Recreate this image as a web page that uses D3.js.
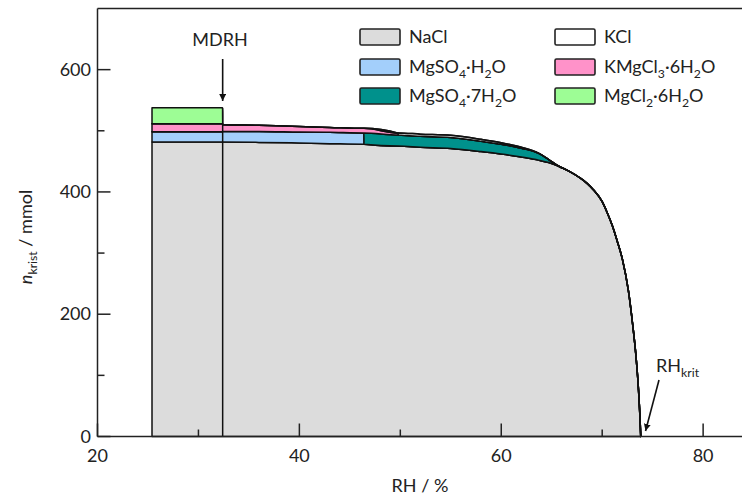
<!DOCTYPE html>
<html><head><meta charset="utf-8">
<script src="https://cdn.jsdelivr.net/npm/d3@7"></script>
<style>
body{margin:0;background:#fff}
text{font-family:Lato,"Open Sans",sans-serif;fill:#222}
</style>
</head><body>
<svg id="c" width="742" height="497"></svg>
<script>
// ---- data ----
const rh        = [25.4, 32.4, 32.4, 36, 40, 43, 46.4, 46.4, 49.8, 49.8, 52, 55, 58, 60, 62, 63.7, 64.7, 65.7, 66.7, 67.7, 68.5, 69.1, 70.0, 70.5, 71.0, 71.5, 72.0, 72.6, 73.0, 73.35, 73.6, 73.77, 73.82];
const nacl      = [481.5, 481.5, 481.5, 481, 480, 479, 478, 478, 475, 475, 473, 471, 466, 462, 457, 452, 448, 442, 434, 424, 414, 404, 384, 366, 345, 319, 290, 238, 186, 131, 76, 21, 0];
const mgso4H2O  = [17, 17, 17.5, 18, 18, 18.5, 18.5, 0, 0, 0, 0, 0, 0, 0, 0, 0, 0, 0, 0, 0, 0, 0, 0, 0, 0, 0, 0, 0, 0, 0, 0, 0, 0];
const mgso47H2O = [0, 0, 0, 0, 0, 0, 0, 18.5, 18, 18, 18, 18, 17, 16, 14.5, 11, 5, 0, 0, 0, 0, 0, 0, 0, 0, 0, 0, 0, 0, 0, 0, 0, 0];
const kmgcl3    = [13, 13, 11, 10, 9, 8, 7.5, 7.5, 3, 0, 0, 0, 0, 0, 0, 0, 0, 0, 0, 0, 0, 0, 0, 0, 0, 0, 0, 0, 0, 0, 0, 0, 0];
const kcl       = [0, 0, 0, 0, 0, 0, 0, 0, 0, 3.5, 3.5, 3.5, 3, 2.5, 1.5, 0.5, 0, 0, 0, 0, 0, 0, 0, 0, 0, 0, 0, 0, 0, 0, 0, 0, 0];
const mgcl2     = [26, 26, 0, 0, 0, 0, 0, 0, 0, 0, 0, 0, 0, 0, 0, 0, 0, 0, 0, 0, 0, 0, 0, 0, 0, 0, 0, 0, 0, 0, 0, 0, 0];

const keys   = ["NaCl", "MgSO_4·H_2O", "MgSO_4·7H_2O", "KMgCl_3·6H_2O", "KCl", "MgCl_2·6H_2O"];
const values = [nacl, mgso4H2O, mgso47H2O, kmgcl3, kcl, mgcl2];
const colors = ["#dcdcdc", "#a3cffb", "#00918c", "#ff92c9", "#ffffff", "#9dfd95"];
const legendOrder = ["NaCl", "KCl", "MgSO_4·H_2O", "KMgCl_3·6H_2O", "MgSO_4·7H_2O", "MgCl_2·6H_2O"];

const xTicks = [20, 40, 60, 80], xMinor = [30, 50, 70];
const yTicks = [0, 200, 400, 600], yMinor = [100, 300, 500];
const mdrh = 32.4, rhKrit = 73.8;

// ---- chart ----
const svg = d3.select("#c");
const x = d3.scaleLinear().domain([20, 84]).range([97.5, 743.5]);
const y = d3.scaleLinear().domain([0, 700]).range([436.5, 8.5]);

// phase transitions appear as repeated RH values: nudge the second one a hair so the curve can be smoothed
const table = rh.map((r, i) => {
  const o = {rh: (i > 0 && r === rh[i - 1]) ? r + 0.002 : r};
  keys.forEach((k, j) => o[k] = values[j][i]);
  return o;
});
const stacked = d3.stack().keys(keys)(table);

const area = d3.area()
  .curve(d3.curveMonotoneX)
  .x(d => x(d.data.rh))
  .y0(d => y(d[0]))
  .y1(d => y(d[1]));

svg.append("g").selectAll("path").data(stacked).join("path")
  .attr("d", area)
  .attr("fill", (d, i) => colors[i])
  .attr("stroke", "#111")
  .attr("stroke-width", 1.5)
  .attr("stroke-linejoin", "round");

// MDRH vertical line
const topAtMdrh = d3.sum(values, v => v[1]);
svg.append("line")
  .attr("x1", x(mdrh)).attr("x2", x(mdrh))
  .attr("y1", y(0)).attr("y2", y(topAtMdrh))
  .attr("stroke", "#111").attr("stroke-width", 1.5);

// rich text helper (_x or _{xyz} = subscript)
function rich(sel, str, fs) {
  const re = /_\{([^}]*)\}|_(.)/g;
  let last = 0, m, shifted = false;
  const add = (t, sub) => {
    if (!t) return;
    const ts = sel.append("tspan").text(t);
    if (sub) { ts.attr("font-size", fs * 0.68).attr("dy", shifted ? 0 : fs * 0.25); shifted = true; }
    else { ts.attr("dy", shifted ? -fs * 0.25 : 0); shifted = false; }
  };
  while ((m = re.exec(str))) {
    add(str.slice(last, m.index), false);
    add(m[1] !== undefined ? m[1] : m[2], true);
    last = re.lastIndex;
  }
  add(str.slice(last), false);
}

// axes
const axisG = svg.append("g").attr("stroke", "#222").attr("stroke-width", 1.5);
axisG.append("line").attr("x1", x.range()[0]).attr("x2", x.range()[1]).attr("y1", y(0)).attr("y2", y(0));
axisG.append("line").attr("x1", x.range()[0]).attr("x2", x.range()[1]).attr("y1", y(700)).attr("y2", y(700));
axisG.append("line").attr("x1", x(20)).attr("x2", x(20)).attr("y1", y(0)).attr("y2", y(700));

xTicks.forEach(t => axisG.append("line").attr("x1", x(t)).attr("x2", x(t)).attr("y1", y(0)).attr("y2", y(0) - 13));
xMinor.forEach(t => axisG.append("line").attr("x1", x(t)).attr("x2", x(t)).attr("y1", y(0)).attr("y2", y(0) - 7));
yTicks.forEach(t => axisG.append("line").attr("x1", x(20)).attr("x2", x(20) + 13).attr("y1", y(t)).attr("y2", y(t)));
yMinor.forEach(t => axisG.append("line").attr("x1", x(20)).attr("x2", x(20) + 7).attr("y1", y(t)).attr("y2", y(t)));

const FS = 18;
svg.append("g").selectAll("text").data(xTicks).join("text")
  .attr("x", d => x(d)).attr("y", 462).attr("text-anchor", "middle")
  .attr("font-size", FS).text(d => d);
svg.append("g").selectAll("text").data(yTicks).join("text")
  .attr("x", 91).attr("y", d => y(d) + 6).attr("text-anchor", "end")
  .attr("font-size", FS).text(d => d);

// axis titles
svg.append("text").attr("x", 420).attr("y", 492).attr("text-anchor", "middle")
  .attr("font-size", FS).text("RH / %");
const yt = svg.append("text").attr("transform", "translate(32,237) rotate(-90)")
  .attr("text-anchor", "middle").attr("font-size", FS);
yt.append("tspan").attr("font-style", "italic").text("n");
rich(yt, "_{krist} / mmol", FS);

// legend
const lg = svg.append("g");
legendOrder.forEach((k, i) => {
  const col = i % 2, row = Math.floor(i / 2);
  const lx = col === 0 ? 360 : 555;
  const cy = [37, 67, 96][row];
  lg.append("rect").attr("x", lx).attr("y", cy - 8).attr("width", 40).attr("height", 16)
    .attr("rx", 1.5)
    .attr("fill", colors[keys.indexOf(k)]).attr("stroke", "#222").attr("stroke-width", 1.6);
  const t = lg.append("text").attr("x", lx + 49).attr("y", cy + 6).attr("font-size", FS);
  rich(t, k, FS);
});

// annotations
svg.append("defs").append("marker").attr("id", "ah")
  .attr("viewBox", "0 0 10 10").attr("refX", 10).attr("refY", 5)
  .attr("markerWidth", 7).attr("markerHeight", 7).attr("markerUnits", "userSpaceOnUse")
  .attr("orient", "auto")
  .append("path").attr("d", "M0,0 L10,5 L0,10 Z").attr("fill", "#111");

svg.append("text").attr("x", 220).attr("y", 46).attr("text-anchor", "middle")
  .attr("font-size", FS).text("MDRH");
svg.append("line").attr("x1", x(mdrh)).attr("x2", x(mdrh)).attr("y1", 59).attr("y2", 101)
  .attr("stroke", "#111").attr("stroke-width", 1.6).attr("marker-end", "url(#ah)");

const rk = svg.append("text").attr("x", 656).attr("y", 372).attr("font-size", FS);
rich(rk, "RH_{krit}", FS);
svg.append("line").attr("x1", 659).attr("y1", 380).attr("x2", x(rhKrit) + 5).attr("y2", 431)
  .attr("stroke", "#111").attr("stroke-width", 1.6).attr("marker-end", "url(#ah)");
</script>
</body></html>
